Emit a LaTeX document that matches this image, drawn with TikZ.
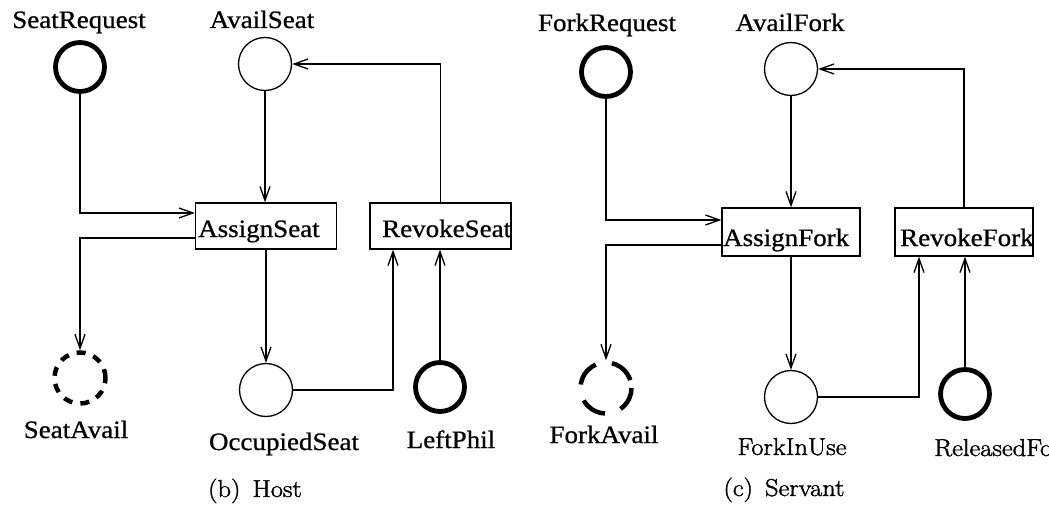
\documentclass[tikz,border=0pt]{standalone}
\usepackage{fontspec}
\setmainfont{Liberation Serif}[FakeStretch=1.08,FakeBold=0.8]
\newfontfamily\cmfont{Latin Modern Roman}[FakeStretch=1.08,FakeBold=1.6]
\usetikzlibrary{arrows.meta}
\begin{document}
\begin{tikzpicture}[x=1pt,y=-1pt,
  place/.style={circle,draw,line width=1.3pt,minimum size=53pt,inner sep=0pt},
  thickplace/.style={place,line width=4.8pt,minimum size=49pt},
  dashplace/.style={place,line width=4.5pt,minimum size=51pt},
  trans/.style={draw,line width=1.3pt,inner sep=0pt,minimum width=141pt,minimum height=46pt},
  arc/.style={draw,line width=1.3pt,-{Straight Barb[length=14pt,width=10pt,line width=1.3pt]}},
  lab/.style={font=\fontsize{25}{30}\selectfont,anchor=base,inner sep=0pt},
  cmlab/.style={font=\cmfont\fontsize{24.5}{29}\selectfont,anchor=base,inner sep=0pt}]
\clip (0,0) rectangle (1049,505);
\fill[white] (0,0) rectangle (1049,505);

% ---------- (b) Host ----------
\node[thickplace] (sreq) at (80,67) {};
\node[place] (aseat) at (265,64) {};
\node[trans] (assign) at (266,226) {};
\node[trans] (revoke) at (440.5,226) {};
\node[dashplace,dash pattern=on 9pt off 8.2pt] (savail) at (80,378) {};
\node[place] (occ) at (266,390) {};
\node[thickplace] (lphil) at (440,387) {};

\node[lab] (sreqL) at (79,28) {SeatRequest};
\node[lab] (aseatL) at (262,28) {AvailSeat};
\node[lab,anchor=base west] (assignT) at (198,237) {AssignSeat};
\begin{scope}
  \clip (revoke.north west) rectangle (revoke.south east);
  \node[lab,anchor=base west] (revokeT) at (382,237) {RevokeSeat};
\end{scope}
\node[lab] (savailL) at (76,438) {SeatAvail};
\node[lab] (occL) at (284,450) {OccupiedSeat};
\node[lab] (lphilL) at (451,448) {LeftPhil};
\node[cmlab] (capB) at (255,497) {(b)\, Host};

\draw[arc] (sreq.south) |- ([yshift=13pt]assign.west);
\draw[arc] (aseat.south) -- (aseat.south |- assign.north);
\draw[arc] ([yshift=-12pt]assign.west) -| (savail.north);
\draw[arc] (assign.south) -- (occ.north);
\draw[arc] (occ.east) -| ([xshift=-47.5pt]revoke.south);
\draw[arc] (lphil.north) -- (lphil.north |- revoke.south);
\draw[arc] (revoke.north) |- (aseat.east);

% ---------- (c) Servant ----------
\node[thickplace] (freq) at (606,72) {};
\node[place] (afork) at (791,69) {};
\node[trans,minimum width=138pt,minimum height=48pt] (assignF) at (791,232) {};
\node[trans,minimum width=138pt,minimum height=48pt] (revokeF) at (964,232) {};
\node[dashplace,dash pattern=on 26pt off 16.5pt,dash phase=-8pt] (favail) at (606,388) {};
\node[place] (finuse) at (791,397) {};
\node[thickplace] (relf) at (965,394) {};

\node[lab] (freqL) at (607,31) {ForkRequest};
\node[lab] (aforkL) at (790,31) {AvailFork};
\node[lab,anchor=base west] (assignFT) at (723,246) {AssignFork};
\begin{scope}
  \clip (revokeF.north west) rectangle (revokeF.south east);
  \node[lab,anchor=base west] (revokeFT) at (900,246) {RevokeFork};
\end{scope}
\node[lab] (favailL) at (604,443) {ForkAvail};
\node[cmlab] (finuseL) at (792,455) {ForkInUse};
\node[cmlab,anchor=base west] (relfL) at (934,456) {ReleasedFork};
\node[cmlab] (capC) at (784,496) {(c)\, Servant};

\draw[arc] (freq.south) |- ([yshift=12pt]assignF.west);
\draw[arc] (afork.south) -- (afork.south |- assignF.north);
\draw[arc] ([yshift=-13pt]assignF.west) -| (favail.north);
\draw[arc] (assignF.south) -- (finuse.north);
\draw[arc] (finuse.east) -| ([xshift=-45pt]revokeF.south);
\draw[arc] (relf.north) -- (relf.north |- revokeF.south);
\draw[arc] (revokeF.north) |- (afork.east);
\end{tikzpicture}
\end{document}
